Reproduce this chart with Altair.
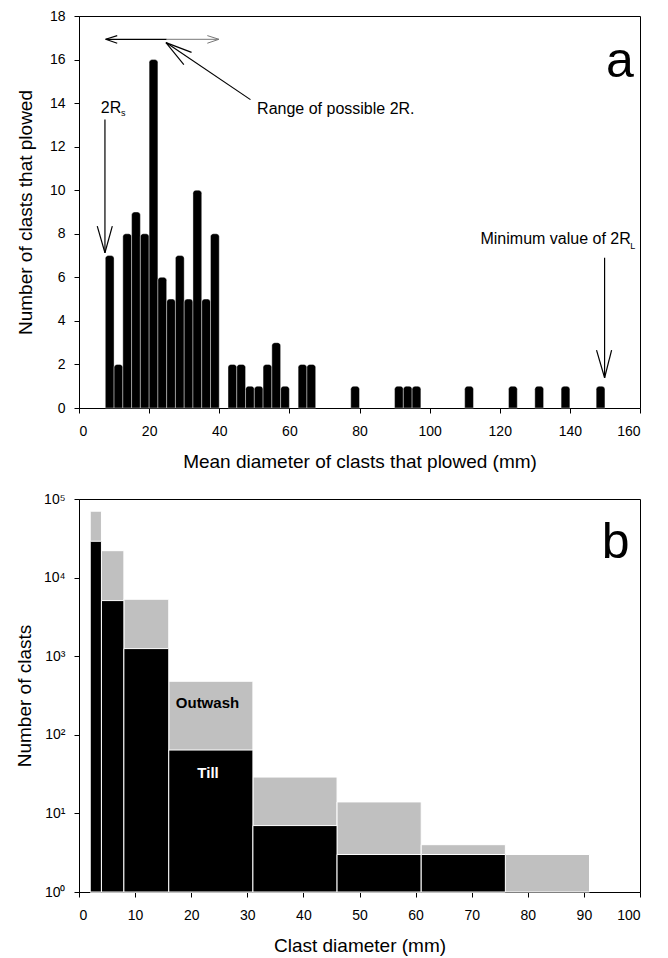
import altair as alt
import pandas as pd

FONT = "Liberation Sans"

# ---------------- Panel a data ----------------
a_lo = [7.5, 10, 12.5, 15, 17.5, 20, 22.5, 25, 27.5, 30, 32.5, 35, 37.5,
        42.5, 45, 47.5, 50, 52.5, 55, 57.5, 62.5, 65, 77.5,
        90, 92.5, 95, 110, 122.5, 130, 137.5, 147.5]
a_count = [7, 2, 8, 9, 8, 16, 6, 5, 7, 5, 10, 5, 8,
           2, 2, 1, 1, 2, 3, 1, 2, 2, 1,
           1, 1, 1, 1, 1, 1, 1, 1]
a_bin = 2.5

# annotation segments (data units): x, y, x2, y2
seg_black = [
    (7.6, 16.93, 25.0, 16.93),
    (7.6, 16.93, 10.9, 17.10),
    (7.6, 16.93, 10.9, 16.75),
    (48.9, 14.16, 24.8, 16.78),
    (24.8, 16.78, 32.1, 16.33),
    (24.8, 16.78, 29.9, 15.77),
    (7.4, 13.25, 7.4, 7.13),
    (7.4, 7.13, 5.2, 8.35),
    (7.4, 7.13, 9.5, 8.35),
    (149.9, 6.9, 149.9, 1.39),
    (149.9, 1.39, 147.6, 2.66),
    (149.9, 1.39, 151.9, 2.66),
]
seg_gray = [
    (25.0, 16.93, 39.9, 16.93),
    (39.9, 16.93, 36.6, 17.10),
    (39.9, 16.93, 36.6, 16.75),
]
a_texts = [(50.8, 13.52, "Range of possible 2R."), (6.2, 13.55, "2R"),
           (114.5, 7.54, "Minimum value of 2R")]
a_subs = [(12.0, 13.40, "s"), (157.2, 7.30, "L")]
a_letter = [(150.3, 15.2, "a")]

# ---------------- Panel b data ----------------
b_lo = [2, 4, 8, 16, 31, 46, 61, 76]
b_hi = [4, 8, 16, 31, 46, 61, 76, 91]
b_outwash = [70000, 22000, 5300, 480, 29, 14, 4, 3]
b_till = [29000, 5100, 1250, 64, 7, 3, 3, None]
b_labels = [(22.9, 219, "Outwash", "black"), (23.0, 28, "Till", "white")]
b_letter = [(93.2, 18000, "b")]

# ---------------- Panel a chart ----------------
dfa = pd.DataFrame({"lo": a_lo, "count": a_count})
dfa["hi"] = dfa["lo"] + a_bin

xa = alt.Scale(domain=[0, 160], nice=False, zero=False)
ya = alt.Scale(domain=[0, 18], nice=False)

bars_a = alt.Chart(dfa).mark_bar(
    color="black", cornerRadiusTopLeft=3, cornerRadiusTopRight=3,
    stroke="white", strokeWidth=0.4
).encode(
    x=alt.X("lo:Q", scale=xa,
            axis=alt.Axis(values=list(range(0, 161, 10)), title="Mean diameter of clasts that plowed (mm)",
                          labelPadding=11, titlePadding=14)),
    x2="hi:Q",
    y=alt.Y("count:Q", scale=ya,
            axis=alt.Axis(values=list(range(0, 19, 2)), title="Number of clasts that plowed",
                          labelPadding=9, titlePadding=14)),
    y2=alt.datum(0),
)


def segs(lst, color, width):
    df = pd.DataFrame(lst, columns=["x", "y", "x2", "y2"])
    return alt.Chart(df).mark_rule(color=color, strokeWidth=width).encode(
        x=alt.X("x:Q", scale=xa), y=alt.Y("y:Q", scale=ya), x2="x2:Q", y2="y2:Q")


def texts(lst, size, scx, scy, **kw):
    df = pd.DataFrame(lst, columns=["x", "y", "t"])
    return alt.Chart(df).mark_text(fontSize=size, font=FONT, align="left",
                                   baseline="alphabetic", **kw).encode(
        x=alt.X("x:Q", scale=scx), y=alt.Y("y:Q", scale=scy), text="t:N")


top = alt.layer(
    bars_a,
    segs(seg_black, "black", 1.2),
    segs(seg_gray, "#777777", 1),
    texts(a_texts, 16, xa, ya, color="black"),
    texts(a_subs, 9, xa, ya, color="black"),
    texts(a_letter, 50, xa, ya, color="black"),
).properties(width=561, height=392)

# ---------------- Panel b chart ----------------
dfb = pd.DataFrame({"lo": b_lo, "hi": b_hi, "outwash": b_outwash, "till": b_till})
xb = alt.Scale(domain=[0, 100], nice=False, zero=False)
yb = alt.Scale(type="log", domain=[1, 100000], nice=False)

sup_expr = "'10' + ['\u2070','\u00b9','\u00b2','\u00b3','\u2074','\u2075'][round(log(datum.value)/LN10)]"

out_bars = alt.Chart(dfb).mark_bar(color="#c0c0c0", stroke="white", strokeWidth=1).encode(
    x=alt.X("lo:Q", scale=xb,
            axis=alt.Axis(values=list(range(0, 101, 10)), title="Clast diameter (mm)",
                          labelPadding=11, titlePadding=14)),
    x2="hi:Q",
    y=alt.Y("outwash:Q", scale=yb,
            axis=alt.Axis(values=[1, 10, 100, 1000, 10000, 100000], labelExpr=sup_expr,
                          title="Number of clasts", labelPadding=9, titlePadding=9)),
    y2=alt.datum(1),
)
till_bars = alt.Chart(dfb).transform_filter("isValid(datum.till)").mark_bar(
    color="black", stroke="white", strokeWidth=1).encode(
    x=alt.X("lo:Q", scale=xb), x2="hi:Q",
    y=alt.Y("till:Q", scale=yb), y2=alt.datum(1),
)
dfl = pd.DataFrame(b_labels, columns=["x", "y", "t", "c"])
lab_b = alt.Chart(dfl).mark_text(fontSize=15, font=FONT, fontWeight="bold", align="center",
                                 baseline="alphabetic").encode(
    x=alt.X("x:Q", scale=xb), y=alt.Y("y:Q", scale=yb), text="t:N",
    color=alt.Color("c:N", scale=None))

bottom = alt.layer(
    out_bars, till_bars, lab_b,
    texts(b_letter, 50, xb, yb, color="black"),
).properties(width=561, height=393)

chart = alt.vconcat(top, bottom, spacing=19).properties(
    padding={"left": 14, "top": 8, "right": 5, "bottom": 0}
).configure_view(stroke="black", strokeWidth=1).configure_axis(
    grid=False, domainColor="black", tickColor="black", tickSize=5,
    labelFont=FONT, labelFontSize=14, labelColor="black",
    titleFont=FONT, titleFontSize=19, titleFontWeight="normal", titleColor="black",
).configure_text(font=FONT)

chart.save("out.html", embed_options={"renderer": "svg", "actions": False})
